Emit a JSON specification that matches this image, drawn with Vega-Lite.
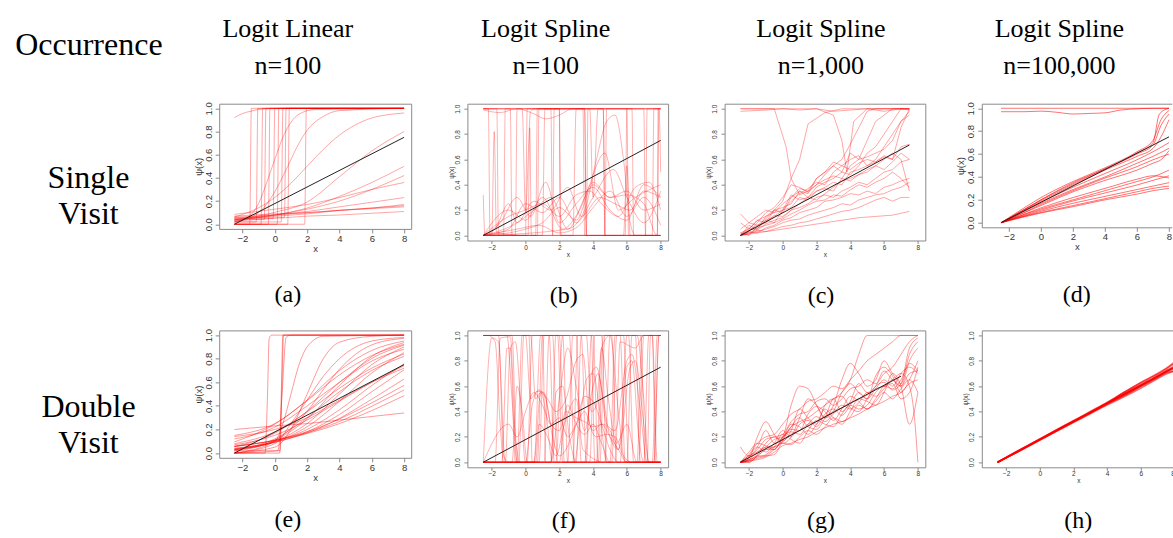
{
"$schema":"https://vega.github.io/schema/vega-lite/v6.json",
"background":"white",
"padding":0,
"columns":5,
"spacing":{"row":89.7,"column":56.2},
"bounds":"flush",
"align":"each",
"center":true,
"config":{
 "view":{"stroke":"#8a8a8a","strokeWidth":1},
 "axis":{"grid":false,"domain":false,"tickColor":"#8a8a8a","labelColor":"#333","titleColor":"#333","labelFont":"Liberation Sans","titleFont":"Liberation Sans","titleFontWeight":"normal","labelOverlap":false,"labelSeparation":0,"labelBound":false,"tickCount":6},
 "axisY":{"labelAngle":270,"labelAlign":"center","labelBaseline":"bottom","format":".1f"},
 "title":{"font":"Liberation Serif","fontWeight":"normal","color":"#000","fontSize":24},
 "text":{"font":"Liberation Serif","fontSize":26,"color":"#000"}
},
"datasets":{
"t8":[{"x":-2.5,"y":0},{"x":8,"y":0.75}],
"t75":[{"x":-2.5,"y":0},{"x":7.5,"y":0.714}],
"t7":[{"x":-2.5,"y":0},{"x":7,"y":0.679}],
"a":[
{"s":1,"x":-2.5,"y":0},{"s":1,"x":-1.55,"y":0},{"s":1,"x":-1.45,"y":1},{"s":1,"x":8,"y":1},
{"s":2,"x":-2.5,"y":0.02},{"s":2,"x":-1.15,"y":0.02},{"s":2,"x":-1.05,"y":1},{"s":2,"x":8,"y":1},
{"s":3,"x":-2.5,"y":0},{"s":3,"x":-0.85,"y":0},{"s":3,"x":-0.75,"y":1},{"s":3,"x":8,"y":1},
{"s":4,"x":-2.5,"y":0.04},{"s":4,"x":-0.65,"y":0.04},{"s":4,"x":-0.55,"y":1},{"s":4,"x":8,"y":1},
{"s":5,"x":-2.5,"y":0},{"s":5,"x":-0.4,"y":0},{"s":5,"x":-0.3,"y":1},{"s":5,"x":8,"y":1},
{"s":6,"x":-2.5,"y":0.05},{"s":6,"x":-0.1,"y":0.05},{"s":6,"x":0,"y":1},{"s":6,"x":8,"y":1},
{"s":7,"x":-2.5,"y":0},{"s":7,"x":0.15,"y":0},{"s":7,"x":0.25,"y":1},{"s":7,"x":8,"y":1},
{"s":8,"x":-2.5,"y":0.02},{"s":8,"x":0.4,"y":0.02},{"s":8,"x":0.5,"y":1},{"s":8,"x":8,"y":1},
{"s":9,"x":-2.5,"y":0.06},{"s":9,"x":0.6,"y":0.06},{"s":9,"x":0.7,"y":1},{"s":9,"x":8,"y":1},
{"s":10,"x":-2.5,"y":0},{"s":10,"x":0.8,"y":0},{"s":10,"x":0.9,"y":1},{"s":10,"x":8,"y":1},
{"s":11,"x":-2.5,"y":0},{"s":11,"x":1.85,"y":0},{"s":11,"x":1.95,"y":1},{"s":11,"x":8,"y":1},
{"s":12,"x":-2.5,"y":0.92},{"s":12,"x":-2,"y":0.955},{"s":12,"x":-1.5,"y":0.975},{"s":12,"x":-1,"y":0.99},{"s":12,"x":0,"y":0.998},{"s":12,"x":8,"y":1},
{"s":13,"x":-2.5,"y":0.02},{"s":13,"x":-1.5,"y":0.08},{"s":13,"x":-1,"y":0.18},{"s":13,"x":-0.5,"y":0.36},{"s":13,"x":0,"y":0.56},{"s":13,"x":0.5,"y":0.75},{"s":13,"x":1,"y":0.88},{"s":13,"x":1.5,"y":0.95},{"s":13,"x":2.5,"y":0.99},{"s":13,"x":8,"y":1},
{"s":14,"x":-2.5,"y":0.02},{"s":14,"x":-1,"y":0.1},{"s":14,"x":0,"y":0.28},{"s":14,"x":0.8,"y":0.5},{"s":14,"x":1.5,"y":0.7},{"s":14,"x":2,"y":0.81},{"s":14,"x":3,"y":0.93},{"s":14,"x":4,"y":0.98},{"s":14,"x":8,"y":1},
{"s":15,"x":-2.5,"y":0.063},{"s":15,"x":-1,"y":0.142},{"s":15,"x":0,"y":0.231},{"s":15,"x":1,"y":0.354},{"s":15,"x":2,"y":0.5},{"s":15,"x":3,"y":0.646},{"s":15,"x":4,"y":0.769},{"s":15,"x":5,"y":0.858},{"s":15,"x":6,"y":0.917},{"s":15,"x":7,"y":0.945},{"s":15,"x":8,"y":0.96},
{"s":16,"x":-2.5,"y":0.036},{"s":16,"x":0,"y":0.103},{"s":16,"x":2,"y":0.192},{"s":16,"x":4,"y":0.41},{"s":16,"x":6,"y":0.632},{"s":16,"x":8,"y":0.8},
{"s":17,"x":-2.5,"y":0.03},{"s":17,"x":0,"y":0.08},{"s":17,"x":2,"y":0.14},{"s":17,"x":4,"y":0.24},{"s":17,"x":6,"y":0.36},{"s":17,"x":8,"y":0.5},
{"s":18,"x":-2.5,"y":0.04},{"s":18,"x":0,"y":0.08},{"s":18,"x":2,"y":0.13},{"s":18,"x":4,"y":0.2},{"s":18,"x":6,"y":0.3},{"s":18,"x":8,"y":0.42},
{"s":19,"x":-2.5,"y":0.085},{"s":19,"x":0,"y":0.13},{"s":19,"x":2,"y":0.17},{"s":19,"x":4,"y":0.23},{"s":19,"x":6,"y":0.3},{"s":19,"x":8,"y":0.36},
{"s":20,"x":-2.5,"y":0.05},{"s":20,"x":0,"y":0.08},{"s":20,"x":2,"y":0.11},{"s":20,"x":4,"y":0.15},{"s":20,"x":6,"y":0.19},{"s":20,"x":8,"y":0.23},
{"s":21,"x":-2.5,"y":0.04},{"s":21,"x":0,"y":0.07},{"s":21,"x":2,"y":0.09},{"s":21,"x":4,"y":0.12},{"s":21,"x":6,"y":0.14},{"s":21,"x":8,"y":0.17},
{"s":22,"x":-2.5,"y":0.06},{"s":22,"x":0,"y":0.08},{"s":22,"x":2,"y":0.1},{"s":22,"x":4,"y":0.12},{"s":22,"x":6,"y":0.135},{"s":22,"x":8,"y":0.15},
{"s":23,"x":-2.5,"y":0.03},{"s":23,"x":0,"y":0.05},{"s":23,"x":2,"y":0.07},{"s":23,"x":4,"y":0.08},{"s":23,"x":6,"y":0.095},{"s":23,"x":8,"y":0.11},
{"s":24,"x":-2.5,"y":0.07},{"s":24,"x":0,"y":0.09},{"s":24,"x":2,"y":0.1},{"s":24,"x":4,"y":0.12},{"s":24,"x":6,"y":0.14},{"s":24,"x":8,"y":0.16}
],
"b":[
{"s":1,"x":-2.5,"y":1},{"s":1,"x":-1.7,"y":1},{"s":1,"x":-1.6,"y":0},{"s":1,"x":0.6,"y":0},{"s":1,"x":0.7,"y":1},{"s":1,"x":3.5,"y":1},{"s":1,"x":3.6,"y":0},{"s":1,"x":8,"y":0},
{"s":2,"x":-2.5,"y":0},{"s":2,"x":-1.3,"y":0},{"s":2,"x":-1.2,"y":1},{"s":2,"x":2,"y":1},{"s":2,"x":2.1,"y":0},{"s":2,"x":4.7,"y":0},{"s":2,"x":4.8,"y":1},{"s":2,"x":6,"y":1},{"s":2,"x":6.1,"y":0},{"s":2,"x":8,"y":0},
{"s":3,"x":-2.5,"y":1},{"s":3,"x":-0.9,"y":1},{"s":3,"x":-0.8,"y":0},{"s":3,"x":1,"y":0},{"s":3,"x":1.15,"y":1},{"s":3,"x":3.4,"y":1},{"s":3,"x":3.5,"y":0},{"s":3,"x":7.8,"y":0},{"s":3,"x":7.9,"y":1},{"s":3,"x":8,"y":1},
{"s":4,"x":-2.5,"y":0},{"s":4,"x":-0.6,"y":0},{"s":4,"x":-0.5,"y":1},{"s":4,"x":1.5,"y":1},{"s":4,"x":1.6,"y":0},{"s":4,"x":3.6,"y":0},{"s":4,"x":3.7,"y":1},{"s":4,"x":6.3,"y":1},{"s":4,"x":6.4,"y":0},{"s":4,"x":7.5,"y":0},{"s":4,"x":7.6,"y":1},{"s":4,"x":8,"y":1},
{"s":5,"x":-2.5,"y":1},{"s":5,"x":-2.2,"y":1},{"s":5,"x":-2.1,"y":0},{"s":5,"x":0,"y":0},{"s":5,"x":0.1,"y":1},{"s":5,"x":4.6,"y":1},{"s":5,"x":4.7,"y":0},{"s":5,"x":7.1,"y":0},{"s":5,"x":7.2,"y":1},{"s":5,"x":8,"y":1},
{"s":6,"x":-2.5,"y":0},{"s":6,"x":0.7,"y":0},{"s":6,"x":0.8,"y":1},{"s":6,"x":2,"y":1},{"s":6,"x":2.05,"y":0},{"s":6,"x":5.9,"y":0},{"s":6,"x":6,"y":1},{"s":6,"x":8,"y":1},
{"s":7,"x":-2.5,"y":0.99},{"s":7,"x":-1.5,"y":0.97},{"s":7,"x":-0.5,"y":1},{"s":7,"x":0.5,"y":0.96},{"s":7,"x":1.2,"y":0.92},{"s":7,"x":2,"y":0.95},{"s":7,"x":2.8,"y":1},{"s":7,"x":8,"y":1},
{"s":8,"x":-2.5,"y":0.32},{"s":8,"x":-2.4,"y":0},{"s":8,"x":-2,"y":0},{"s":8,"x":-1.85,"y":0.82},{"s":8,"x":-1.72,"y":0.02},{"s":8,"x":0.15,"y":0},{"s":8,"x":0.25,"y":0.85},{"s":8,"x":0.35,"y":0},{"s":8,"x":8,"y":0},
{"s":9,"x":-2.5,"y":0},{"s":9,"x":-1.5,"y":0.1},{"s":9,"x":-0.5,"y":0.3},{"s":9,"x":0.3,"y":0.15},{"s":9,"x":1.2,"y":0.42},{"s":9,"x":2,"y":0.1},{"s":9,"x":3,"y":0.25},{"s":9,"x":4,"y":0.38},{"s":9,"x":5,"y":0.2},{"s":9,"x":6,"y":0.12},{"s":9,"x":7,"y":0.4},{"s":9,"x":8,"y":0.3},
{"s":10,"x":-2.5,"y":0},{"s":10,"x":-1,"y":0.2},{"s":10,"x":0,"y":0.12},{"s":10,"x":1,"y":0.3},{"s":10,"x":2.2,"y":0.05},{"s":10,"x":3.2,"y":0.2},{"s":10,"x":4,"y":0.42},{"s":10,"x":5,"y":0.3},{"s":10,"x":6,"y":0.35},{"s":10,"x":7,"y":0.2},{"s":10,"x":8,"y":0.25},
{"s":11,"x":-2.5,"y":0},{"s":11,"x":-1,"y":0.05},{"s":11,"x":0,"y":0.25},{"s":11,"x":1,"y":0.18},{"s":11,"x":2,"y":0.3},{"s":11,"x":3,"y":0.1},{"s":11,"x":4,"y":0.3},{"s":11,"x":5.2,"y":0.52},{"s":11,"x":6,"y":0.3},{"s":11,"x":7,"y":0.1},{"s":11,"x":8,"y":0.35},
{"s":12,"x":-2.5,"y":0},{"s":12,"x":-0.5,"y":0.1},{"s":12,"x":0.5,"y":0.2},{"s":12,"x":1.5,"y":0.3},{"s":12,"x":2.5,"y":0.05},{"s":12,"x":3.5,"y":0.3},{"s":12,"x":4.7,"y":0.65},{"s":12,"x":5.5,"y":0.2},{"s":12,"x":6.5,"y":0.3},{"s":12,"x":8,"y":0.4},
{"s":13,"x":-2.5,"y":0},{"s":13,"x":2.5,"y":0.05},{"s":13,"x":3.5,"y":0.2},{"s":13,"x":4.2,"y":0.6},{"s":13,"x":4.8,"y":0.9},{"s":13,"x":5.3,"y":0.95},{"s":13,"x":5.8,"y":0.6},{"s":13,"x":6.2,"y":0.1},{"s":13,"x":6.5,"y":0},{"s":13,"x":8,"y":0},
{"s":14,"x":-2.5,"y":0},{"s":14,"x":-1,"y":0.15},{"s":14,"x":0,"y":0.2},{"s":14,"x":1,"y":0.25},{"s":14,"x":2,"y":0.15},{"s":14,"x":3,"y":0.32},{"s":14,"x":3.8,"y":0.35},{"s":14,"x":4.5,"y":0.25},{"s":14,"x":5.5,"y":0.15},{"s":14,"x":6.5,"y":0.38},{"s":14,"x":7.3,"y":0.42},{"s":14,"x":8,"y":0.2},
{"s":15,"x":-2.5,"y":0},{"s":15,"x":0,"y":0.05},{"s":15,"x":1,"y":0.1},{"s":15,"x":2,"y":0.22},{"s":15,"x":3,"y":0.12},{"s":15,"x":4,"y":0.4},{"s":15,"x":5,"y":0.3},{"s":15,"x":6,"y":0.32},{"s":15,"x":7,"y":0.25},{"s":15,"x":7.8,"y":0},{"s":15,"x":8,"y":0},
{"s":16,"x":-2.5,"y":0},{"s":16,"x":-0.5,"y":0.05},{"s":16,"x":0.8,"y":0.08},{"s":16,"x":2,"y":0.02},{"s":16,"x":3,"y":0.06},{"s":16,"x":4,"y":0.22},{"s":16,"x":5,"y":0.35},{"s":16,"x":6,"y":0.15},{"s":16,"x":7,"y":0.3},{"s":16,"x":8,"y":0.08},
{"s":17,"x":-2.5,"y":0},{"s":17,"x":-1.8,"y":0.05},{"s":17,"x":-1,"y":0.25},{"s":17,"x":-0.5,"y":0.1},{"s":17,"x":0.5,"y":0.27},{"s":17,"x":1.5,"y":0.2},{"s":17,"x":2.5,"y":0.38},{"s":17,"x":3.3,"y":0.15},{"s":17,"x":4.4,"y":0.3},{"s":17,"x":5.3,"y":0.25},{"s":17,"x":6.2,"y":0.2},{"s":17,"x":7,"y":0.35},{"s":17,"x":8,"y":0.3},
{"s":18,"x":-2.5,"y":1},{"s":18,"x":-0.2,"y":1},{"s":18,"x":0,"y":0.2},{"s":18,"x":0.3,"y":0.98},{"s":18,"x":0.6,"y":1},{"s":18,"x":3.8,"y":1},{"s":18,"x":4,"y":0.3},{"s":18,"x":4.3,"y":1},{"s":18,"x":7.9,"y":1},{"s":18,"x":8,"y":0.5},
{"s":19,"x":-2.5,"y":0},{"s":19,"x":1.6,"y":0},{"s":19,"x":1.7,"y":1},{"s":19,"x":3.5,"y":1},{"s":19,"x":3.6,"y":0},{"s":19,"x":5.8,"y":0},{"s":19,"x":6,"y":0.55},{"s":19,"x":6.2,"y":0},{"s":19,"x":8,"y":0},
{"s":20,"x":-2.5,"y":0},{"s":20,"x":2.8,"y":0},{"s":20,"x":3,"y":1},{"s":20,"x":7,"y":1},{"s":20,"x":7.1,"y":0},{"s":20,"x":8,"y":0},
{"s":21,"x":-2.5,"y":1},{"s":21,"x":4.6,"y":1},{"s":21,"x":4.7,"y":0},{"s":21,"x":7.8,"y":0},{"s":21,"x":7.85,"y":1},{"s":21,"x":8,"y":1}
],
"c":[
{"s":1,"x":-2.5,"y":0.98},{"s":1,"x":-1,"y":0.99},{"s":1,"x":0,"y":1},{"s":1,"x":1,"y":0.99},{"s":1,"x":2,"y":1},{"s":1,"x":3,"y":0.98},{"s":1,"x":4,"y":0.99},{"s":1,"x":5,"y":1},{"s":1,"x":6,"y":0.98},{"s":1,"x":7,"y":1},{"s":1,"x":7.5,"y":0.99},
{"s":2,"x":-2.5,"y":1},{"s":2,"x":-0.5,"y":1},{"s":2,"x":0.2,"y":0.7},{"s":2,"x":0.5,"y":0.45},{"s":2,"x":1,"y":0.6},{"s":2,"x":1.5,"y":0.88},{"s":2,"x":2.5,"y":0.97},{"s":2,"x":3.5,"y":1},{"s":2,"x":7.5,"y":1},
{"s":3,"x":-2.5,"y":1},{"s":3,"x":2,"y":1},{"s":3,"x":3,"y":0.95},{"s":3,"x":3.5,"y":0.75},{"s":3,"x":3.8,"y":0.5},{"s":3,"x":4.2,"y":0.9},{"s":3,"x":5,"y":1},{"s":3,"x":7.5,"y":1},
{"s":4,"x":-2.5,"y":0.02},{"s":4,"x":-2,"y":0.05},{"s":4,"x":-1.5,"y":0.12},{"s":4,"x":-1,"y":0.1},{"s":4,"x":-0.5,"y":0.2},{"s":4,"x":0,"y":0.18},{"s":4,"x":0.5,"y":0.3},{"s":4,"x":1,"y":0.35},{"s":4,"x":1.5,"y":0.33},{"s":4,"x":2,"y":0.45},{"s":4,"x":2.5,"y":0.5},{"s":4,"x":3,"y":0.55},{"s":4,"x":3.5,"y":0.6},{"s":4,"x":4,"y":0.72},{"s":4,"x":4.5,"y":0.85},{"s":4,"x":5,"y":0.98},{"s":4,"x":5.5,"y":1},{"s":4,"x":7.5,"y":1},
{"s":5,"x":-2.5,"y":0},{"s":5,"x":-2,"y":0.08},{"s":5,"x":-1.5,"y":0.05},{"s":5,"x":-1,"y":0.15},{"s":5,"x":-0.5,"y":0.2},{"s":5,"x":0,"y":0.27},{"s":5,"x":0.5,"y":0.45},{"s":5,"x":1,"y":0.32},{"s":5,"x":1.5,"y":0.35},{"s":5,"x":2,"y":0.4},{"s":5,"x":2.5,"y":0.48},{"s":5,"x":3,"y":0.55},{"s":5,"x":3.5,"y":0.5},{"s":5,"x":4,"y":0.65},{"s":5,"x":4.5,"y":0.6},{"s":5,"x":5,"y":0.75},{"s":5,"x":5.5,"y":0.9},{"s":5,"x":6,"y":0.95},{"s":5,"x":6.5,"y":1},{"s":5,"x":7.5,"y":1},
{"s":6,"x":-2.5,"y":0.17},{"s":6,"x":-2,"y":0.1},{"s":6,"x":-1.5,"y":0.15},{"s":6,"x":-1,"y":0.2},{"s":6,"x":-0.5,"y":0.18},{"s":6,"x":0,"y":0.25},{"s":6,"x":0.5,"y":0.3},{"s":6,"x":1,"y":0.37},{"s":6,"x":1.5,"y":0.35},{"s":6,"x":2,"y":0.45},{"s":6,"x":2.5,"y":0.5},{"s":6,"x":3,"y":0.58},{"s":6,"x":3.5,"y":0.55},{"s":6,"x":4,"y":0.6},{"s":6,"x":4.5,"y":0.63},{"s":6,"x":5,"y":0.55},{"s":6,"x":5.5,"y":0.6},{"s":6,"x":6,"y":0.7},{"s":6,"x":6.5,"y":0.8},{"s":6,"x":7,"y":0.9},{"s":6,"x":7.5,"y":0.98},
{"s":7,"x":-2.5,"y":0},{"s":7,"x":-2,"y":0.02},{"s":7,"x":-1.5,"y":0.05},{"s":7,"x":-1,"y":0.12},{"s":7,"x":-0.5,"y":0.1},{"s":7,"x":0,"y":0.2},{"s":7,"x":0.5,"y":0.22},{"s":7,"x":1,"y":0.3},{"s":7,"x":1.5,"y":0.28},{"s":7,"x":2,"y":0.35},{"s":7,"x":2.5,"y":0.38},{"s":7,"x":3,"y":0.42},{"s":7,"x":3.5,"y":0.4},{"s":7,"x":4,"y":0.5},{"s":7,"x":4.5,"y":0.52},{"s":7,"x":5,"y":0.55},{"s":7,"x":5.5,"y":0.58},{"s":7,"x":6,"y":0.62},{"s":7,"x":6.5,"y":0.6},{"s":7,"x":7,"y":0.85},{"s":7,"x":7.5,"y":1},
{"s":8,"x":-2.5,"y":0.01},{"s":8,"x":-2,"y":0.04},{"s":8,"x":-1.5,"y":0.08},{"s":8,"x":-1,"y":0.1},{"s":8,"x":-0.5,"y":0.16},{"s":8,"x":0,"y":0.15},{"s":8,"x":0.5,"y":0.2},{"s":8,"x":1,"y":0.25},{"s":8,"x":1.5,"y":0.3},{"s":8,"x":2,"y":0.28},{"s":8,"x":2.5,"y":0.33},{"s":8,"x":3,"y":0.38},{"s":8,"x":3.5,"y":0.43},{"s":8,"x":4,"y":0.45},{"s":8,"x":4.5,"y":0.48},{"s":8,"x":5,"y":0.52},{"s":8,"x":5.5,"y":0.55},{"s":8,"x":6,"y":0.6},{"s":8,"x":6.5,"y":0.65},{"s":8,"x":7,"y":0.6},{"s":8,"x":7.5,"y":0.35},
{"s":9,"x":-2.5,"y":0},{"s":9,"x":-2,"y":0.06},{"s":9,"x":-1.5,"y":0.04},{"s":9,"x":-1,"y":0.09},{"s":9,"x":-0.5,"y":0.12},{"s":9,"x":0,"y":0.14},{"s":9,"x":0.5,"y":0.2},{"s":9,"x":1,"y":0.22},{"s":9,"x":1.5,"y":0.25},{"s":9,"x":2,"y":0.3},{"s":9,"x":2.5,"y":0.32},{"s":9,"x":3,"y":0.3},{"s":9,"x":3.5,"y":0.35},{"s":9,"x":4,"y":0.38},{"s":9,"x":4.5,"y":0.42},{"s":9,"x":5,"y":0.4},{"s":9,"x":5.5,"y":0.45},{"s":9,"x":6,"y":0.5},{"s":9,"x":6.5,"y":0.52},{"s":9,"x":7,"y":0.58},{"s":9,"x":7.5,"y":0.6},
{"s":10,"x":-2.5,"y":0},{"s":10,"x":-2,"y":0.02},{"s":10,"x":-1.5,"y":0.03},{"s":10,"x":-1,"y":0.05},{"s":10,"x":-0.5,"y":0.07},{"s":10,"x":0,"y":0.1},{"s":10,"x":0.5,"y":0.12},{"s":10,"x":1,"y":0.13},{"s":10,"x":1.5,"y":0.16},{"s":10,"x":2,"y":0.18},{"s":10,"x":2.5,"y":0.2},{"s":10,"x":3,"y":0.22},{"s":10,"x":3.5,"y":0.25},{"s":10,"x":4,"y":0.24},{"s":10,"x":4.5,"y":0.28},{"s":10,"x":5,"y":0.3},{"s":10,"x":5.5,"y":0.32},{"s":10,"x":6,"y":0.33},{"s":10,"x":6.5,"y":0.36},{"s":10,"x":7,"y":0.38},{"s":10,"x":7.5,"y":0.42},
{"s":11,"x":-2.5,"y":0},{"s":11,"x":-2,"y":0.01},{"s":11,"x":-1.5,"y":0.04},{"s":11,"x":-1,"y":0.03},{"s":11,"x":-0.5,"y":0.05},{"s":11,"x":0,"y":0.07},{"s":11,"x":0.5,"y":0.08},{"s":11,"x":1,"y":0.1},{"s":11,"x":1.5,"y":0.11},{"s":11,"x":2,"y":0.13},{"s":11,"x":2.5,"y":0.15},{"s":11,"x":3,"y":0.17},{"s":11,"x":3.5,"y":0.19},{"s":11,"x":4,"y":0.2},{"s":11,"x":4.5,"y":0.22},{"s":11,"x":5,"y":0.25},{"s":11,"x":5.5,"y":0.28},{"s":11,"x":6,"y":0.3},{"s":11,"x":6.5,"y":0.27},{"s":11,"x":7,"y":0.3},{"s":11,"x":7.5,"y":0.3},
{"s":12,"x":-2.5,"y":0},{"s":12,"x":-1.5,"y":0.02},{"s":12,"x":-0.5,"y":0.04},{"s":12,"x":0.5,"y":0.06},{"s":12,"x":1.5,"y":0.08},{"s":12,"x":2.5,"y":0.1},{"s":12,"x":3.5,"y":0.12},{"s":12,"x":4.5,"y":0.14},{"s":12,"x":5.5,"y":0.15},{"s":12,"x":6.5,"y":0.16},{"s":12,"x":7.5,"y":0.19},
{"s":13,"x":-2.5,"y":0.02},{"s":13,"x":-2,"y":0},{"s":13,"x":-1.5,"y":0.07},{"s":13,"x":-1,"y":0.12},{"s":13,"x":-0.5,"y":0.15},{"s":13,"x":0,"y":0.2},{"s":13,"x":0.5,"y":0.27},{"s":13,"x":1,"y":0.33},{"s":13,"x":1.5,"y":0.37},{"s":13,"x":2,"y":0.42},{"s":13,"x":2.5,"y":0.4},{"s":13,"x":3,"y":0.5},{"s":13,"x":3.5,"y":0.55},{"s":13,"x":4,"y":0.52},{"s":13,"x":4.5,"y":0.57},{"s":13,"x":5,"y":0.6},{"s":13,"x":5.5,"y":0.58},{"s":13,"x":6,"y":0.63},{"s":13,"x":6.5,"y":0.6},{"s":13,"x":7,"y":0.7},{"s":13,"x":7.5,"y":0.72},
{"s":14,"x":-2.5,"y":0},{"s":14,"x":-2,"y":0.03},{"s":14,"x":-1.5,"y":0.1},{"s":14,"x":-1,"y":0.18},{"s":14,"x":-0.5,"y":0.22},{"s":14,"x":0,"y":0.3},{"s":14,"x":0.5,"y":0.4},{"s":14,"x":1,"y":0.38},{"s":14,"x":1.5,"y":0.34},{"s":14,"x":2,"y":0.4},{"s":14,"x":2.5,"y":0.44},{"s":14,"x":3,"y":0.47},{"s":14,"x":3.5,"y":0.45},{"s":14,"x":4,"y":0.55},{"s":14,"x":4.5,"y":0.6},{"s":14,"x":5,"y":0.62},{"s":14,"x":5.5,"y":0.65},{"s":14,"x":6,"y":0.68},{"s":14,"x":6.5,"y":0.75},{"s":14,"x":7,"y":0.9},{"s":14,"x":7.5,"y":0.95},
{"s":15,"x":-2.5,"y":0},{"s":15,"x":-2,"y":0.03},{"s":15,"x":-1.5,"y":0.02},{"s":15,"x":-1,"y":0.06},{"s":15,"x":-0.5,"y":0.08},{"s":15,"x":0,"y":0.12},{"s":15,"x":0.5,"y":0.14},{"s":15,"x":1,"y":0.18},{"s":15,"x":1.5,"y":0.2},{"s":15,"x":2,"y":0.22},{"s":15,"x":2.5,"y":0.27},{"s":15,"x":3,"y":0.28},{"s":15,"x":3.5,"y":0.3},{"s":15,"x":4,"y":0.33},{"s":15,"x":4.5,"y":0.32},{"s":15,"x":5,"y":0.35},{"s":15,"x":5.5,"y":0.33},{"s":15,"x":6,"y":0.38},{"s":15,"x":6.5,"y":0.4},{"s":15,"x":7,"y":0.43},{"s":15,"x":7.5,"y":0.45},
{"s":16,"x":-2.5,"y":0.05},{"s":16,"x":-2,"y":0.1},{"s":16,"x":-1.5,"y":0.08},{"s":16,"x":-1,"y":0.13},{"s":16,"x":-0.5,"y":0.2},{"s":16,"x":0,"y":0.22},{"s":16,"x":0.5,"y":0.25},{"s":16,"x":1,"y":0.35},{"s":16,"x":1.5,"y":0.3},{"s":16,"x":2,"y":0.38},{"s":16,"x":2.5,"y":0.42},{"s":16,"x":3,"y":0.45},{"s":16,"x":3.5,"y":0.5},{"s":16,"x":4,"y":0.48},{"s":16,"x":4.5,"y":0.55},{"s":16,"x":5,"y":0.65},{"s":16,"x":5.5,"y":0.7},{"s":16,"x":6,"y":0.8},{"s":16,"x":6.5,"y":0.9},{"s":16,"x":7,"y":1},{"s":16,"x":7.5,"y":1},
{"s":17,"x":-2.5,"y":0},{"s":17,"x":-2,"y":0.04},{"s":17,"x":-1.5,"y":0.06},{"s":17,"x":-1,"y":0.08},{"s":17,"x":-0.5,"y":0.1},{"s":17,"x":0,"y":0.13},{"s":17,"x":0.5,"y":0.17},{"s":17,"x":1,"y":0.2},{"s":17,"x":1.5,"y":0.24},{"s":17,"x":2,"y":0.27},{"s":17,"x":2.5,"y":0.28},{"s":17,"x":3,"y":0.32},{"s":17,"x":3.5,"y":0.31},{"s":17,"x":4,"y":0.36},{"s":17,"x":4.5,"y":0.4},{"s":17,"x":5,"y":0.38},{"s":17,"x":5.5,"y":0.42},{"s":17,"x":6,"y":0.45},{"s":17,"x":6.5,"y":0.5},{"s":17,"x":7,"y":0.45},{"s":17,"x":7.5,"y":0.38},
{"s":18,"x":-2.5,"y":0.1},{"s":18,"x":-2,"y":0.05},{"s":18,"x":-1.5,"y":0.12},{"s":18,"x":-1,"y":0.15},{"s":18,"x":-0.5,"y":0.18},{"s":18,"x":0,"y":0.2},{"s":18,"x":0.5,"y":0.32},{"s":18,"x":1,"y":0.28},{"s":18,"x":1.5,"y":0.3},{"s":18,"x":2,"y":0.35},{"s":18,"x":2.5,"y":0.37},{"s":18,"x":3,"y":0.35},{"s":18,"x":3.5,"y":0.45},{"s":18,"x":4,"y":0.43},{"s":18,"x":4.5,"y":0.48},{"s":18,"x":5,"y":0.5},{"s":18,"x":5.5,"y":0.55},{"s":18,"x":6,"y":0.52},{"s":18,"x":6.5,"y":0.58},{"s":18,"x":7,"y":0.65},{"s":18,"x":7.5,"y":0.6}
],
"d":[
{"s":1,"x":-2.5,"y":1},{"s":1,"x":8,"y":1},
{"s":2,"x":-2.5,"y":0.97},{"s":2,"x":-1,"y":0.97},{"s":2,"x":0,"y":0.975},{"s":2,"x":1,"y":0.965},{"s":2,"x":2,"y":0.95},{"s":2,"x":3,"y":0.955},{"s":2,"x":4,"y":0.96},{"s":2,"x":5,"y":0.985},{"s":2,"x":6,"y":0.995},{"s":2,"x":7,"y":1},{"s":2,"x":8,"y":1},
{"s":3,"x":-2.5,"y":0},{"s":3,"x":-1.5,"y":0.09},{"s":3,"x":0,"y":0.22},{"s":3,"x":2,"y":0.36},{"s":3,"x":4,"y":0.48},{"s":3,"x":6,"y":0.62},{"s":3,"x":7,"y":0.72},{"s":3,"x":7.5,"y":0.9},{"s":3,"x":8,"y":0.98},
{"s":4,"x":-2.5,"y":0},{"s":4,"x":-1.5,"y":0.08},{"s":4,"x":0,"y":0.2},{"s":4,"x":2,"y":0.34},{"s":4,"x":4,"y":0.47},{"s":4,"x":6,"y":0.6},{"s":4,"x":7,"y":0.68},{"s":4,"x":7.5,"y":0.85},{"s":4,"x":8,"y":0.95},
{"s":5,"x":-2.5,"y":0},{"s":5,"x":-1.5,"y":0.08},{"s":5,"x":0,"y":0.19},{"s":5,"x":2,"y":0.33},{"s":5,"x":4,"y":0.46},{"s":5,"x":6,"y":0.58},{"s":5,"x":7,"y":0.65},{"s":5,"x":7.5,"y":0.75},{"s":5,"x":8,"y":0.9},
{"s":6,"x":-2.5,"y":0},{"s":6,"x":-1.5,"y":0.07},{"s":6,"x":0,"y":0.18},{"s":6,"x":2,"y":0.31},{"s":6,"x":4,"y":0.43},{"s":6,"x":6,"y":0.55},{"s":6,"x":7,"y":0.62},{"s":6,"x":8,"y":0.7},
{"s":7,"x":-2.5,"y":0},{"s":7,"x":-1.5,"y":0.07},{"s":7,"x":0,"y":0.17},{"s":7,"x":2,"y":0.29},{"s":7,"x":4,"y":0.4},{"s":7,"x":6,"y":0.52},{"s":7,"x":7,"y":0.58},{"s":7,"x":8,"y":0.65},
{"s":8,"x":-2.5,"y":0},{"s":8,"x":-1.5,"y":0.06},{"s":8,"x":0,"y":0.16},{"s":8,"x":2,"y":0.28},{"s":8,"x":4,"y":0.39},{"s":8,"x":6,"y":0.49},{"s":8,"x":7,"y":0.55},{"s":8,"x":8,"y":0.6},
{"s":9,"x":-2.5,"y":0},{"s":9,"x":-1.5,"y":0.06},{"s":9,"x":0,"y":0.15},{"s":9,"x":2,"y":0.27},{"s":9,"x":4,"y":0.37},{"s":9,"x":6,"y":0.46},{"s":9,"x":7,"y":0.52},{"s":9,"x":7.5,"y":0.55},{"s":9,"x":8,"y":0.63},
{"s":10,"x":-2.5,"y":0},{"s":10,"x":-1.5,"y":0.075},{"s":10,"x":0,"y":0.2},{"s":10,"x":2,"y":0.35},{"s":10,"x":4,"y":0.47},{"s":10,"x":6,"y":0.61},{"s":10,"x":7,"y":0.7},{"s":10,"x":7.4,"y":0.95},{"s":10,"x":8,"y":1},
{"s":11,"x":-2.5,"y":0},{"s":11,"x":-1.5,"y":0.05},{"s":11,"x":0,"y":0.12},{"s":11,"x":2,"y":0.2},{"s":11,"x":4,"y":0.28},{"s":11,"x":6,"y":0.36},{"s":11,"x":7,"y":0.4},{"s":11,"x":8,"y":0.46},
{"s":12,"x":-2.5,"y":0},{"s":12,"x":-1.5,"y":0.045},{"s":12,"x":0,"y":0.11},{"s":12,"x":2,"y":0.19},{"s":12,"x":4,"y":0.26},{"s":12,"x":6,"y":0.33},{"s":12,"x":7,"y":0.37},{"s":12,"x":8,"y":0.41},
{"s":13,"x":-2.5,"y":0},{"s":13,"x":-1.5,"y":0.04},{"s":13,"x":0,"y":0.1},{"s":13,"x":2,"y":0.17},{"s":13,"x":4,"y":0.23},{"s":13,"x":6,"y":0.29},{"s":13,"x":7,"y":0.32},{"s":13,"x":8,"y":0.35},
{"s":14,"x":-2.5,"y":0},{"s":14,"x":-1.5,"y":0.04},{"s":14,"x":0,"y":0.09},{"s":14,"x":2,"y":0.15},{"s":14,"x":4,"y":0.21},{"s":14,"x":6,"y":0.27},{"s":14,"x":7,"y":0.3},{"s":14,"x":8,"y":0.32},
{"s":15,"x":-2.5,"y":0},{"s":15,"x":-1.5,"y":0.035},{"s":15,"x":0,"y":0.085},{"s":15,"x":2,"y":0.14},{"s":15,"x":4,"y":0.2},{"s":15,"x":6,"y":0.25},{"s":15,"x":7,"y":0.28},{"s":15,"x":8,"y":0.3},
{"s":16,"x":-2.5,"y":0},{"s":16,"x":-1.5,"y":0.05},{"s":16,"x":0,"y":0.13},{"s":16,"x":2,"y":0.22},{"s":16,"x":4,"y":0.3},{"s":16,"x":6,"y":0.38},{"s":16,"x":7,"y":0.41},{"s":16,"x":8,"y":0.39}
],
"e":[
{"s":1,"x":-2.5,"y":0},{"s":1,"x":-0.6,"y":0},{"s":1,"x":-0.45,"y":0.5},{"s":1,"x":-0.35,"y":0.97},{"s":1,"x":-0.2,"y":1},{"s":1,"x":8,"y":1},
{"s":2,"x":-2.5,"y":0},{"s":2,"x":0.3,"y":0},{"s":2,"x":0.4,"y":0.5},{"s":2,"x":0.5,"y":1},{"s":2,"x":8,"y":1},
{"s":3,"x":-2.5,"y":0.02},{"s":3,"x":0.33,"y":0.02},{"s":3,"x":0.43,"y":0.5},{"s":3,"x":0.55,"y":1},{"s":3,"x":8,"y":1},
{"s":4,"x":-2.5,"y":0},{"s":4,"x":0.2,"y":0.02},{"s":4,"x":0.45,"y":0.5},{"s":4,"x":0.7,"y":0.98},{"s":4,"x":1,"y":1},{"s":4,"x":8,"y":1},
{"s":5,"x":-2.5,"y":0},{"s":5,"x":0,"y":0.1},{"s":5,"x":0.5,"y":0.25},{"s":5,"x":1,"y":0.5},{"s":5,"x":1.5,"y":0.75},{"s":5,"x":2,"y":0.9},{"s":5,"x":3,"y":0.99},{"s":5,"x":8,"y":1},
{"s":6,"x":-2.5,"y":0.018},{"s":6,"x":0,"y":0.109},{"s":6,"x":2,"y":0.354},{"s":6,"x":3,"y":0.537},{"s":6,"x":4,"y":0.711},{"s":6,"x":6,"y":0.917},{"s":6,"x":8,"y":0.973},
{"s":7,"x":-2.5,"y":0.027},{"s":7,"x":0,"y":0.109},{"s":7,"x":2,"y":0.289},{"s":7,"x":4,"y":0.574},{"s":7,"x":6,"y":0.818},{"s":7,"x":8,"y":0.937},
{"s":8,"x":-2.5,"y":0.055},{"s":8,"x":0,"y":0.168},{"s":8,"x":2,"y":0.354},{"s":8,"x":4,"y":0.599},{"s":8,"x":6,"y":0.802},{"s":8,"x":8,"y":0.915},
{"s":9,"x":-2.5,"y":0.095},{"s":9,"x":0,"y":0.245},{"s":9,"x":2,"y":0.444},{"s":9,"x":4,"y":0.663},{"s":9,"x":6,"y":0.827},{"s":9,"x":8,"y":0.922},
{"s":10,"x":-2.5,"y":0.027},{"s":10,"x":0,"y":0.1},{"s":10,"x":2,"y":0.25},{"s":10,"x":4,"y":0.5},{"s":10,"x":6,"y":0.75},{"s":10,"x":8,"y":0.9},
{"s":11,"x":-2.5,"y":0.029},{"s":11,"x":0,"y":0.095},{"s":11,"x":2,"y":0.223},{"s":11,"x":4,"y":0.438},{"s":11,"x":6,"y":0.679},{"s":11,"x":8,"y":0.852},
{"s":12,"x":-2.5,"y":0.036},{"s":12,"x":0,"y":0.097},{"s":12,"x":2,"y":0.2},{"s":12,"x":4,"y":0.367},{"s":12,"x":6,"y":0.573},{"s":12,"x":8,"y":0.757},
{"s":13,"x":-2.5,"y":0.035},{"s":13,"x":0,"y":0.09},{"s":13,"x":2,"y":0.18},{"s":13,"x":4,"y":0.327},{"s":13,"x":6,"y":0.52},{"s":13,"x":8,"y":0.706},
{"s":14,"x":-2.5,"y":0.041},{"s":14,"x":0,"y":0.093},{"s":14,"x":2,"y":0.17},{"s":14,"x":4,"y":0.294},{"s":14,"x":6,"y":0.457},{"s":14,"x":8,"y":0.628},
{"s":15,"x":-2.5,"y":0.055},{"s":15,"x":0,"y":0.109},{"s":15,"x":2,"y":0.182},{"s":15,"x":4,"y":0.289},{"s":15,"x":6,"y":0.426},{"s":15,"x":8,"y":0.574},
{"s":16,"x":-2.5,"y":0.057},{"s":16,"x":0,"y":0.109},{"s":16,"x":2,"y":0.174},{"s":16,"x":4,"y":0.267},{"s":16,"x":6,"y":0.397},{"s":16,"x":8,"y":0.535},
{"s":17,"x":-2.5,"y":0.058},{"s":17,"x":0,"y":0.106},{"s":17,"x":2,"y":0.166},{"s":17,"x":4,"y":0.25},{"s":17,"x":6,"y":0.36},{"s":17,"x":8,"y":0.487},
{"s":18,"x":-2.5,"y":0.2},{"s":18,"x":0,"y":0.23},{"s":18,"x":2,"y":0.25},{"s":18,"x":4,"y":0.28},{"s":18,"x":6,"y":0.31},{"s":18,"x":8,"y":0.34},
{"s":19,"x":-2.5,"y":0.14},{"s":19,"x":0,"y":0.2},{"s":19,"x":2,"y":0.3},{"s":19,"x":4,"y":0.45},{"s":19,"x":6,"y":0.6},{"s":19,"x":8,"y":0.72},
{"s":20,"x":-2.5,"y":0.12},{"s":20,"x":0,"y":0.22},{"s":20,"x":2,"y":0.4},{"s":20,"x":4,"y":0.6},{"s":20,"x":6,"y":0.78},{"s":20,"x":8,"y":0.88},
{"s":21,"x":-2.5,"y":0.08},{"s":21,"x":0,"y":0.18},{"s":21,"x":2,"y":0.35},{"s":21,"x":4,"y":0.55},{"s":21,"x":6,"y":0.72},{"s":21,"x":8,"y":0.84},
{"s":22,"x":-2.5,"y":0.07},{"s":22,"x":0,"y":0.15},{"s":22,"x":2,"y":0.28},{"s":22,"x":4,"y":0.44},{"s":22,"x":6,"y":0.6},{"s":22,"x":8,"y":0.74},
{"s":23,"x":-2.5,"y":0},{"s":23,"x":0,"y":0.05},{"s":23,"x":1,"y":0.2},{"s":23,"x":2,"y":0.5},{"s":23,"x":3,"y":0.8},{"s":23,"x":4,"y":0.94},{"s":23,"x":6,"y":0.99},{"s":23,"x":8,"y":1},
{"s":24,"x":-2.5,"y":0},{"s":24,"x":0,"y":0.08},{"s":24,"x":1,"y":0.25},{"s":24,"x":2,"y":0.45},{"s":24,"x":3,"y":0.65},{"s":24,"x":4,"y":0.8},{"s":24,"x":6,"y":0.95},{"s":24,"x":8,"y":0.98},
{"s":25,"x":-2.5,"y":0.03},{"s":25,"x":0,"y":0.12},{"s":25,"x":2,"y":0.3},{"s":25,"x":4,"y":0.52},{"s":25,"x":6,"y":0.7},{"s":25,"x":8,"y":0.82},
{"s":26,"x":-2.5,"y":0.15},{"s":26,"x":0,"y":0.25},{"s":26,"x":2,"y":0.45},{"s":26,"x":4,"y":0.7},{"s":26,"x":6,"y":0.87},{"s":26,"x":8,"y":0.95}
],
"f":[
{"s":1,"x":-2.5,"y":1},{"s":1,"x":-2.2,"y":1},{"s":1,"x":-1.8,"y":0.95},{"s":1,"x":-1.5,"y":0.3},{"s":1,"x":-1.3,"y":0},{"s":1,"x":0.5,"y":0},{"s":1,"x":0.9,"y":1},{"s":1,"x":2,"y":1},{"s":1,"x":2.3,"y":0},{"s":1,"x":8,"y":0},
{"s":2,"x":-2.5,"y":0},{"s":2,"x":-1.2,"y":0},{"s":2,"x":-0.9,"y":0.9},{"s":2,"x":-0.6,"y":0.95},{"s":2,"x":-0.3,"y":0.5},{"s":2,"x":0,"y":0},{"s":2,"x":1.5,"y":0},{"s":2,"x":1.8,"y":1},{"s":2,"x":3,"y":1},{"s":2,"x":3.3,"y":0},{"s":2,"x":5,"y":0},{"s":2,"x":5.3,"y":1},{"s":2,"x":6.5,"y":1},{"s":2,"x":6.8,"y":0},{"s":2,"x":8,"y":0},
{"s":3,"x":-2.5,"y":0},{"s":3,"x":-0.5,"y":0},{"s":3,"x":-0.2,"y":1},{"s":3,"x":0.3,"y":1},{"s":3,"x":0.6,"y":0.5},{"s":3,"x":0.9,"y":0.55},{"s":3,"x":1.2,"y":0.4},{"s":3,"x":1.6,"y":0},{"s":3,"x":2.5,"y":0},{"s":3,"x":2.8,"y":1},{"s":3,"x":4.5,"y":1},{"s":3,"x":4.8,"y":0},{"s":3,"x":7.2,"y":0},{"s":3,"x":7.4,"y":1},{"s":3,"x":8,"y":1},
{"s":4,"x":-2.5,"y":1},{"s":4,"x":-0.8,"y":1},{"s":4,"x":-0.5,"y":0},{"s":4,"x":0.8,"y":0},{"s":4,"x":1.1,"y":1},{"s":4,"x":1.9,"y":1},{"s":4,"x":2.2,"y":0},{"s":4,"x":3.6,"y":0},{"s":4,"x":3.9,"y":1},{"s":4,"x":5.8,"y":1},{"s":4,"x":6.1,"y":0},{"s":4,"x":7,"y":0},{"s":4,"x":7.3,"y":1},{"s":4,"x":8,"y":1},
{"s":5,"x":-2.5,"y":0},{"s":5,"x":0,"y":0},{"s":5,"x":0.4,"y":0.45},{"s":5,"x":0.8,"y":0.57},{"s":5,"x":1.2,"y":0.5},{"s":5,"x":1.6,"y":0.2},{"s":5,"x":2,"y":0.05},{"s":5,"x":3,"y":0.3},{"s":5,"x":3.5,"y":0.52},{"s":5,"x":4,"y":0.48},{"s":5,"x":4.5,"y":0.3},{"s":5,"x":5,"y":0.1},{"s":5,"x":5.5,"y":0},{"s":5,"x":8,"y":0},
{"s":6,"x":-2.5,"y":0},{"s":6,"x":-1,"y":0.3},{"s":6,"x":-0.5,"y":0.2},{"s":6,"x":0,"y":0.4},{"s":6,"x":0.5,"y":0.55},{"s":6,"x":1,"y":0.45},{"s":6,"x":1.5,"y":0.3},{"s":6,"x":2,"y":0.35},{"s":6,"x":2.5,"y":0.2},{"s":6,"x":3,"y":0.3},{"s":6,"x":3.5,"y":0.4},{"s":6,"x":4,"y":0.25},{"s":6,"x":4.5,"y":0.3},{"s":6,"x":5,"y":0.2},{"s":6,"x":5.5,"y":0.1},{"s":6,"x":6,"y":0},{"s":6,"x":8,"y":0},
{"s":7,"x":-2.5,"y":0},{"s":7,"x":1.5,"y":0},{"s":7,"x":2,"y":0.5},{"s":7,"x":2.5,"y":0.9},{"s":7,"x":3,"y":0.6},{"s":7,"x":3.5,"y":0.25},{"s":7,"x":4,"y":0.6},{"s":7,"x":4.3,"y":0.7},{"s":7,"x":4.8,"y":0.3},{"s":7,"x":5.3,"y":0.25},{"s":7,"x":6,"y":0.8},{"s":7,"x":6.3,"y":0.85},{"s":7,"x":6.8,"y":0.4},{"s":7,"x":7.2,"y":0},{"s":7,"x":8,"y":0},
{"s":8,"x":-2.5,"y":1},{"s":8,"x":1.4,"y":1},{"s":8,"x":1.7,"y":0},{"s":8,"x":2.9,"y":0},{"s":8,"x":3.2,"y":0.3},{"s":8,"x":3.6,"y":0.65},{"s":8,"x":4,"y":0.7},{"s":8,"x":4.4,"y":0.4},{"s":8,"x":4.8,"y":0},{"s":8,"x":6,"y":0},{"s":8,"x":6.3,"y":1},{"s":8,"x":8,"y":1},
{"s":9,"x":-2.5,"y":0},{"s":9,"x":-2,"y":0.98},{"s":9,"x":-1.6,"y":0.95},{"s":9,"x":-1.2,"y":0},{"s":9,"x":0.1,"y":0},{"s":9,"x":0.4,"y":1},{"s":9,"x":1,"y":1},{"s":9,"x":1.2,"y":0},{"s":9,"x":3,"y":0},{"s":9,"x":3.3,"y":1},{"s":9,"x":4,"y":1},{"s":9,"x":4.3,"y":0},{"s":9,"x":6.6,"y":0},{"s":9,"x":6.9,"y":1},{"s":9,"x":7.5,"y":1},{"s":9,"x":7.8,"y":0},{"s":9,"x":8,"y":0},
{"s":10,"x":-2.5,"y":0},{"s":10,"x":-0.4,"y":0},{"s":10,"x":-0.1,"y":1},{"s":10,"x":0.2,"y":1},{"s":10,"x":0.4,"y":0},{"s":10,"x":1.8,"y":0},{"s":10,"x":2.2,"y":1},{"s":10,"x":3.6,"y":1},{"s":10,"x":3.9,"y":0.4},{"s":10,"x":4.2,"y":0.45},{"s":10,"x":4.5,"y":0.9},{"s":10,"x":5,"y":1},{"s":10,"x":5.5,"y":0.4},{"s":10,"x":5.9,"y":0},{"s":10,"x":8,"y":0},
{"s":11,"x":-2.5,"y":1},{"s":11,"x":0,"y":1},{"s":11,"x":0.3,"y":0.5},{"s":11,"x":0.7,"y":0.56},{"s":11,"x":1.1,"y":0.55},{"s":11,"x":1.5,"y":0.3},{"s":11,"x":2,"y":0.25},{"s":11,"x":2.5,"y":0.45},{"s":11,"x":3,"y":0.3},{"s":11,"x":3.5,"y":0.22},{"s":11,"x":4,"y":0.3},{"s":11,"x":4.5,"y":0.15},{"s":11,"x":5,"y":0},{"s":11,"x":7.5,"y":0},{"s":11,"x":7.8,"y":1},{"s":11,"x":8,"y":1},
{"s":12,"x":-2.5,"y":0},{"s":12,"x":2,"y":0},{"s":12,"x":2.4,"y":0.4},{"s":12,"x":3,"y":0.35},{"s":12,"x":3.5,"y":0.32},{"s":12,"x":4,"y":0.28},{"s":12,"x":4.6,"y":0.3},{"s":12,"x":5,"y":0.25},{"s":12,"x":5.5,"y":0.1},{"s":12,"x":6.2,"y":0.75},{"s":12,"x":6.5,"y":0.8},{"s":12,"x":7,"y":0.3},{"s":12,"x":7.3,"y":0},{"s":12,"x":8,"y":0},
{"s":13,"x":-2.5,"y":1},{"s":13,"x":-1.6,"y":1},{"s":13,"x":-1.3,"y":0.05},{"s":13,"x":-1,"y":0},{"s":13,"x":0.6,"y":0},{"s":13,"x":0.8,"y":0.3},{"s":13,"x":1.3,"y":0.2},{"s":13,"x":1.8,"y":0.05},{"s":13,"x":2.3,"y":0.3},{"s":13,"x":3,"y":0.5},{"s":13,"x":3.4,"y":0.1},{"s":13,"x":4.7,"y":0},{"s":13,"x":5,"y":1},{"s":13,"x":6.1,"y":1},{"s":13,"x":6.4,"y":0},{"s":13,"x":8,"y":0},
{"s":14,"x":-2.5,"y":0},{"s":14,"x":-1.8,"y":0},{"s":14,"x":-1.5,"y":0.98},{"s":14,"x":-0.9,"y":0.99},{"s":14,"x":-0.6,"y":0.2},{"s":14,"x":-0.3,"y":0},{"s":14,"x":2.8,"y":0},{"s":14,"x":3.1,"y":1},{"s":14,"x":3.9,"y":1},{"s":14,"x":4.1,"y":0},{"s":14,"x":5.1,"y":0},{"s":14,"x":5.4,"y":1},{"s":14,"x":7.5,"y":1},{"s":14,"x":7.7,"y":0},{"s":14,"x":8,"y":0},
{"s":15,"x":-2.5,"y":0},{"s":15,"x":3.5,"y":0},{"s":15,"x":3.9,"y":0.7},{"s":15,"x":4.2,"y":0.75},{"s":15,"x":4.6,"y":0.5},{"s":15,"x":5,"y":0.2},{"s":15,"x":5.5,"y":0.1},{"s":15,"x":6,"y":0.75},{"s":15,"x":6.3,"y":0.8},{"s":15,"x":6.7,"y":0.2},{"s":15,"x":7,"y":0},{"s":15,"x":8,"y":0},
{"s":16,"x":-2.5,"y":0},{"s":16,"x":-0.8,"y":0},{"s":16,"x":-0.5,"y":0.6},{"s":16,"x":-0.2,"y":0.4},{"s":16,"x":0.1,"y":0},{"s":16,"x":1.1,"y":0},{"s":16,"x":1.4,"y":1},{"s":16,"x":2.6,"y":1},{"s":16,"x":2.9,"y":0},{"s":16,"x":4.3,"y":0},{"s":16,"x":4.6,"y":1},{"s":16,"x":5.6,"y":1},{"s":16,"x":5.9,"y":0},{"s":16,"x":7.6,"y":0},{"s":16,"x":7.9,"y":1},{"s":16,"x":8,"y":1},
{"s":17,"x":-2.5,"y":1},{"s":17,"x":3.3,"y":1},{"s":17,"x":3.6,"y":0},{"s":17,"x":4.4,"y":0},{"s":17,"x":4.7,"y":1},{"s":17,"x":6.8,"y":1},{"s":17,"x":7.1,"y":0},{"s":17,"x":8,"y":0},
{"s":18,"x":-2.5,"y":0},{"s":18,"x":0.5,"y":0},{"s":18,"x":0.9,"y":0.55},{"s":18,"x":1.3,"y":0.5},{"s":18,"x":1.8,"y":0.4},{"s":18,"x":2.4,"y":0.5},{"s":18,"x":3,"y":0.8},{"s":18,"x":3.4,"y":0.85},{"s":18,"x":3.8,"y":0.3},{"s":18,"x":4.2,"y":0.2},{"s":18,"x":4.8,"y":0.22},{"s":18,"x":5.3,"y":0.2},{"s":18,"x":5.8,"y":0.05},{"s":18,"x":6.3,"y":0},{"s":18,"x":8,"y":0},
{"s":19,"x":-2.5,"y":0},{"s":19,"x":5.6,"y":0},{"s":19,"x":6,"y":1},{"s":19,"x":6.6,"y":1},{"s":19,"x":7,"y":0.5},{"s":19,"x":7.3,"y":0},{"s":19,"x":7.6,"y":0},{"s":19,"x":7.9,"y":1},{"s":19,"x":8,"y":1},
{"s":20,"x":-2.5,"y":1},{"s":20,"x":-1.1,"y":1},{"s":20,"x":-0.8,"y":0.5},{"s":20,"x":-0.5,"y":0},{"s":20,"x":1.5,"y":0},{"s":20,"x":1.8,"y":0.55},{"s":20,"x":2.2,"y":0.6},{"s":20,"x":2.6,"y":0.2},{"s":20,"x":3,"y":0},{"s":20,"x":5.3,"y":0},{"s":20,"x":5.6,"y":0.95},{"s":20,"x":6.5,"y":0.9},{"s":20,"x":7,"y":1},{"s":20,"x":8,"y":1},
{"s":21,"x":-2.5,"y":0},{"s":21,"x":-1.4,"y":0},{"s":21,"x":-1.1,"y":0.9},{"s":21,"x":-0.9,"y":0.9},{"s":21,"x":-0.6,"y":0},{"s":21,"x":0.7,"y":0},{"s":21,"x":1,"y":1},{"s":21,"x":1.6,"y":1},{"s":21,"x":1.9,"y":0},{"s":21,"x":4.2,"y":0},{"s":21,"x":4.5,"y":0.9},{"s":21,"x":4.9,"y":0.5},{"s":21,"x":5.4,"y":0.15},{"s":21,"x":6,"y":0.3},{"s":21,"x":6.6,"y":0},{"s":21,"x":8,"y":0},
{"s":22,"x":-2.5,"y":1},{"s":22,"x":2.2,"y":1},{"s":22,"x":2.5,"y":0},{"s":22,"x":3.8,"y":0},{"s":22,"x":4.1,"y":1},{"s":22,"x":5.1,"y":1},{"s":22,"x":5.4,"y":0},{"s":22,"x":6.7,"y":0},{"s":22,"x":7,"y":1},{"s":22,"x":8,"y":1}
],
"g":[
{"s":1,"x":-2.5,"y":0},{"s":1,"x":-2,"y":0.05},{"s":1,"x":-1.5,"y":0.12},{"s":1,"x":-1,"y":0.08},{"s":1,"x":-0.5,"y":0.15},{"s":1,"x":0,"y":0.25},{"s":1,"x":0.5,"y":0.2},{"s":1,"x":1,"y":0.3},{"s":1,"x":1.5,"y":0.33},{"s":1,"x":2,"y":0.28},{"s":1,"x":2.5,"y":0.38},{"s":1,"x":3,"y":0.42},{"s":1,"x":3.5,"y":0.37},{"s":1,"x":4,"y":0.45},{"s":1,"x":4.5,"y":0.55},{"s":1,"x":5,"y":0.5},{"s":1,"x":5.5,"y":0.58},{"s":1,"x":6,"y":0.65},{"s":1,"x":6.5,"y":0.6},{"s":1,"x":7,"y":0.7},{"s":1,"x":7.5,"y":0.75},{"s":1,"x":8,"y":0.7},
{"s":2,"x":-2.5,"y":0},{"s":2,"x":-2,"y":0.02},{"s":2,"x":-1.5,"y":0.06},{"s":2,"x":-1,"y":0.15},{"s":2,"x":-0.5,"y":0.2},{"s":2,"x":0,"y":0.17},{"s":2,"x":0.5,"y":0.25},{"s":2,"x":1,"y":0.42},{"s":2,"x":1.5,"y":0.35},{"s":2,"x":2,"y":0.3},{"s":2,"x":2.5,"y":0.45},{"s":2,"x":3,"y":0.5},{"s":2,"x":3.5,"y":0.4},{"s":2,"x":4,"y":0.48},{"s":2,"x":4.5,"y":0.62},{"s":2,"x":5,"y":0.55},{"s":2,"x":5.5,"y":0.6},{"s":2,"x":6,"y":0.72},{"s":2,"x":6.5,"y":0.65},{"s":2,"x":7,"y":0.6},{"s":2,"x":7.5,"y":0.8},{"s":2,"x":8,"y":0.9},
{"s":3,"x":-2.5,"y":0},{"s":3,"x":-2,"y":0},{"s":3,"x":-1.5,"y":0.05},{"s":3,"x":-1,"y":0.1},{"s":3,"x":-0.5,"y":0.1},{"s":3,"x":0,"y":0.2},{"s":3,"x":0.5,"y":0.24},{"s":3,"x":1,"y":0.22},{"s":3,"x":1.5,"y":0.3},{"s":3,"x":2,"y":0.36},{"s":3,"x":2.5,"y":0.32},{"s":3,"x":3,"y":0.38},{"s":3,"x":3.5,"y":0.45},{"s":3,"x":4,"y":0.42},{"s":3,"x":4.5,"y":0.47},{"s":3,"x":5,"y":0.55},{"s":3,"x":5.5,"y":0.52},{"s":3,"x":6,"y":0.58},{"s":3,"x":6.5,"y":0.65},{"s":3,"x":7,"y":0.6},{"s":3,"x":7.5,"y":0.7},{"s":3,"x":8,"y":0.72},
{"s":4,"x":-2.5,"y":0.12},{"s":4,"x":-2,"y":0.05},{"s":4,"x":-1.5,"y":0.12},{"s":4,"x":-1,"y":0.25},{"s":4,"x":-0.5,"y":0.15},{"s":4,"x":0,"y":0.2},{"s":4,"x":0.5,"y":0.45},{"s":4,"x":1,"y":0.6},{"s":4,"x":1.5,"y":0.58},{"s":4,"x":2,"y":0.45},{"s":4,"x":2.5,"y":0.35},{"s":4,"x":3,"y":0.45},{"s":4,"x":3.5,"y":0.65},{"s":4,"x":4,"y":0.78},{"s":4,"x":4.5,"y":0.7},{"s":4,"x":5,"y":0.6},{"s":4,"x":5.5,"y":0.65},{"s":4,"x":6,"y":0.8},{"s":4,"x":6.5,"y":0.7},{"s":4,"x":7,"y":0.62},{"s":4,"x":7.5,"y":0.85},{"s":4,"x":8,"y":0.95},
{"s":5,"x":-2.5,"y":0},{"s":5,"x":-2,"y":0.03},{"s":5,"x":-1.5,"y":0.2},{"s":5,"x":-1,"y":0.32},{"s":5,"x":-0.5,"y":0.22},{"s":5,"x":0,"y":0.15},{"s":5,"x":0.5,"y":0.2},{"s":5,"x":1,"y":0.35},{"s":5,"x":1.5,"y":0.5},{"s":5,"x":2,"y":0.45},{"s":5,"x":2.5,"y":0.35},{"s":5,"x":3,"y":0.4},{"s":5,"x":3.5,"y":0.55},{"s":5,"x":4,"y":0.62},{"s":5,"x":4.5,"y":0.55},{"s":5,"x":5,"y":0.5},{"s":5,"x":5.5,"y":0.68},{"s":5,"x":6,"y":0.75},{"s":5,"x":6.5,"y":0.68},{"s":5,"x":7,"y":0.55},{"s":5,"x":7.5,"y":0.65},{"s":5,"x":8,"y":0.8},
{"s":6,"x":-2.5,"y":0},{"s":6,"x":-2,"y":0.02},{"s":6,"x":-1.5,"y":0.08},{"s":6,"x":-1,"y":0.12},{"s":6,"x":-0.5,"y":0.18},{"s":6,"x":0,"y":0.2},{"s":6,"x":0.5,"y":0.28},{"s":6,"x":1,"y":0.32},{"s":6,"x":1.5,"y":0.35},{"s":6,"x":2,"y":0.4},{"s":6,"x":2.5,"y":0.45},{"s":6,"x":3,"y":0.5},{"s":6,"x":3.5,"y":0.55},{"s":6,"x":4,"y":0.65},{"s":6,"x":4.5,"y":0.85},{"s":6,"x":5,"y":1},{"s":6,"x":5.5,"y":1},{"s":6,"x":6,"y":1},{"s":6,"x":6.5,"y":1},{"s":6,"x":7,"y":1},{"s":6,"x":7.5,"y":1},{"s":6,"x":8,"y":1},
{"s":7,"x":-2.5,"y":0},{"s":7,"x":-2,"y":0.01},{"s":7,"x":-1.5,"y":0.03},{"s":7,"x":-1,"y":0.05},{"s":7,"x":-0.5,"y":0.1},{"s":7,"x":0,"y":0.15},{"s":7,"x":0.5,"y":0.14},{"s":7,"x":1,"y":0.2},{"s":7,"x":1.5,"y":0.25},{"s":7,"x":2,"y":0.22},{"s":7,"x":2.5,"y":0.28},{"s":7,"x":3,"y":0.35},{"s":7,"x":3.5,"y":0.32},{"s":7,"x":4,"y":0.36},{"s":7,"x":4.5,"y":0.45},{"s":7,"x":5,"y":0.42},{"s":7,"x":5.5,"y":0.48},{"s":7,"x":6,"y":0.55},{"s":7,"x":6.5,"y":0.5},{"s":7,"x":7,"y":0.58},{"s":7,"x":7.5,"y":0.65},{"s":7,"x":8,"y":0.55},
{"s":8,"x":-2.5,"y":0},{"s":8,"x":-2,"y":0.05},{"s":8,"x":-1.5,"y":0.08},{"s":8,"x":-1,"y":0.12},{"s":8,"x":-0.5,"y":0.12},{"s":8,"x":0,"y":0.18},{"s":8,"x":0.5,"y":0.3},{"s":8,"x":1,"y":0.28},{"s":8,"x":1.5,"y":0.22},{"s":8,"x":2,"y":0.3},{"s":8,"x":2.5,"y":0.42},{"s":8,"x":3,"y":0.35},{"s":8,"x":3.5,"y":0.3},{"s":8,"x":4,"y":0.4},{"s":8,"x":4.5,"y":0.5},{"s":8,"x":5,"y":0.48},{"s":8,"x":5.5,"y":0.45},{"s":8,"x":6,"y":0.55},{"s":8,"x":6.5,"y":0.7},{"s":8,"x":7,"y":0.6},{"s":8,"x":7.5,"y":0.3},{"s":8,"x":8,"y":0.55},
{"s":9,"x":-2.5,"y":0},{"s":9,"x":-2,"y":0.04},{"s":9,"x":-1.5,"y":0.1},{"s":9,"x":-1,"y":0.18},{"s":9,"x":-0.5,"y":0.2},{"s":9,"x":0,"y":0.22},{"s":9,"x":0.5,"y":0.32},{"s":9,"x":1,"y":0.38},{"s":9,"x":1.5,"y":0.4},{"s":9,"x":2,"y":0.48},{"s":9,"x":2.5,"y":0.5},{"s":9,"x":3,"y":0.45},{"s":9,"x":3.5,"y":0.5},{"s":9,"x":4,"y":0.58},{"s":9,"x":4.5,"y":0.6},{"s":9,"x":5,"y":0.65},{"s":9,"x":5.5,"y":0.62},{"s":9,"x":6,"y":0.7},{"s":9,"x":6.5,"y":0.75},{"s":9,"x":7,"y":0.85},{"s":9,"x":7.5,"y":0.95},{"s":9,"x":8,"y":1},
{"s":10,"x":-2.5,"y":0},{"s":10,"x":-2,"y":0.02},{"s":10,"x":-1.5,"y":0.04},{"s":10,"x":-1,"y":0.06},{"s":10,"x":-0.5,"y":0.12},{"s":10,"x":0,"y":0.22},{"s":10,"x":0.5,"y":0.18},{"s":10,"x":1,"y":0.15},{"s":10,"x":1.5,"y":0.25},{"s":10,"x":2,"y":0.33},{"s":10,"x":2.5,"y":0.3},{"s":10,"x":3,"y":0.28},{"s":10,"x":3.5,"y":0.38},{"s":10,"x":4,"y":0.45},{"s":10,"x":4.5,"y":0.42},{"s":10,"x":5,"y":0.45},{"s":10,"x":5.5,"y":0.55},{"s":10,"x":6,"y":0.6},{"s":10,"x":6.5,"y":0.58},{"s":10,"x":7,"y":0.65},{"s":10,"x":7.5,"y":0.78},{"s":10,"x":8,"y":0.72},
{"s":11,"x":-2.5,"y":0},{"s":11,"x":-2,"y":0.06},{"s":11,"x":-1.5,"y":0.15},{"s":11,"x":-1,"y":0.2},{"s":11,"x":-0.5,"y":0.22},{"s":11,"x":0,"y":0.3},{"s":11,"x":0.5,"y":0.38},{"s":11,"x":1,"y":0.42},{"s":11,"x":1.5,"y":0.48},{"s":11,"x":2,"y":0.5},{"s":11,"x":2.5,"y":0.55},{"s":11,"x":3,"y":0.6},{"s":11,"x":3.5,"y":0.58},{"s":11,"x":4,"y":0.65},{"s":11,"x":4.5,"y":0.72},{"s":11,"x":5,"y":0.8},{"s":11,"x":5.5,"y":0.85},{"s":11,"x":6,"y":0.9},{"s":11,"x":6.5,"y":0.95},{"s":11,"x":7,"y":1},{"s":11,"x":7.5,"y":1},{"s":11,"x":8,"y":1},
{"s":12,"x":-2.5,"y":0},{"s":12,"x":-2,"y":0},{"s":12,"x":-1.5,"y":0.05},{"s":12,"x":-1,"y":0.1},{"s":12,"x":-0.5,"y":0.12},{"s":12,"x":0,"y":0.16},{"s":12,"x":0.5,"y":0.22},{"s":12,"x":1,"y":0.25},{"s":12,"x":1.5,"y":0.3},{"s":12,"x":2,"y":0.32},{"s":12,"x":2.5,"y":0.36},{"s":12,"x":3,"y":0.4},{"s":12,"x":3.5,"y":0.43},{"s":12,"x":4,"y":0.47},{"s":12,"x":4.5,"y":0.5},{"s":12,"x":5,"y":0.53},{"s":12,"x":5.5,"y":0.58},{"s":12,"x":6,"y":0.6},{"s":12,"x":6.5,"y":0.65},{"s":12,"x":7,"y":0.7},{"s":12,"x":7.5,"y":0.6},{"s":12,"x":7.8,"y":0.35},{"s":12,"x":8,"y":0},
{"s":13,"x":-2.5,"y":0},{"s":13,"x":-2,"y":0.01},{"s":13,"x":-1.5,"y":0.02},{"s":13,"x":-1,"y":0.04},{"s":13,"x":-0.5,"y":0.08},{"s":13,"x":0,"y":0.13},{"s":13,"x":0.5,"y":0.15},{"s":13,"x":1,"y":0.18},{"s":13,"x":1.5,"y":0.2},{"s":13,"x":2,"y":0.24},{"s":13,"x":2.5,"y":0.27},{"s":13,"x":3,"y":0.3},{"s":13,"x":3.5,"y":0.32},{"s":13,"x":4,"y":0.35},{"s":13,"x":4.5,"y":0.38},{"s":13,"x":5,"y":0.42},{"s":13,"x":5.5,"y":0.45},{"s":13,"x":6,"y":0.48},{"s":13,"x":6.5,"y":0.52},{"s":13,"x":7,"y":0.55},{"s":13,"x":7.5,"y":0.62},{"s":13,"x":8,"y":0.65},
{"s":14,"x":-2.5,"y":0},{"s":14,"x":-2,"y":0.08},{"s":14,"x":-1.5,"y":0.15},{"s":14,"x":-1,"y":0.13},{"s":14,"x":-0.5,"y":0.1},{"s":14,"x":0,"y":0.19},{"s":14,"x":0.5,"y":0.26},{"s":14,"x":1,"y":0.25},{"s":14,"x":1.5,"y":0.38},{"s":14,"x":2,"y":0.44},{"s":14,"x":2.5,"y":0.4},{"s":14,"x":3,"y":0.33},{"s":14,"x":3.5,"y":0.42},{"s":14,"x":4,"y":0.52},{"s":14,"x":4.5,"y":0.48},{"s":14,"x":5,"y":0.42},{"s":14,"x":5.5,"y":0.5},{"s":14,"x":6,"y":0.6},{"s":14,"x":6.5,"y":0.62},{"s":14,"x":7,"y":0.5},{"s":14,"x":7.5,"y":0.55},{"s":14,"x":8,"y":0.75},
{"s":15,"x":-2.5,"y":0},{"s":15,"x":-2,"y":0.01},{"s":15,"x":-1.5,"y":0.05},{"s":15,"x":-1,"y":0.05},{"s":15,"x":-0.5,"y":0.06},{"s":15,"x":0,"y":0.17},{"s":15,"x":0.5,"y":0.28},{"s":15,"x":1,"y":0.35},{"s":15,"x":1.5,"y":0.28},{"s":15,"x":2,"y":0.26},{"s":15,"x":2.5,"y":0.35},{"s":15,"x":3,"y":0.5},{"s":15,"x":3.5,"y":0.52},{"s":15,"x":4,"y":0.43},{"s":15,"x":4.5,"y":0.4},{"s":15,"x":5,"y":0.5},{"s":15,"x":5.5,"y":0.6},{"s":15,"x":6,"y":0.63},{"s":15,"x":6.5,"y":0.57},{"s":15,"x":7,"y":0.62},{"s":15,"x":7.5,"y":0.9},{"s":15,"x":8,"y":0.98}
],
"h":[
{"s":1,"x":-2.5,"y":0},{"s":1,"x":-1.5,"y":0.075},{"s":1,"x":0,"y":0.18},{"s":1,"x":1,"y":0.255},{"s":1,"x":2,"y":0.325},{"s":1,"x":3,"y":0.395},{"s":1,"x":4,"y":0.47},{"s":1,"x":5,"y":0.55},{"s":1,"x":6,"y":0.625},{"s":1,"x":7,"y":0.695},{"s":1,"x":7.5,"y":0.735},{"s":1,"x":8,"y":0.78},
{"s":2,"x":-2.5,"y":0},{"s":2,"x":-1.5,"y":0.068},{"s":2,"x":0,"y":0.172},{"s":2,"x":1,"y":0.243},{"s":2,"x":2,"y":0.312},{"s":2,"x":3,"y":0.382},{"s":2,"x":4,"y":0.45},{"s":2,"x":5,"y":0.515},{"s":2,"x":6,"y":0.585},{"s":2,"x":7,"y":0.66},{"s":2,"x":7.5,"y":0.695},{"s":2,"x":8,"y":0.72},
{"s":3,"x":-2.5,"y":0},{"s":3,"x":-1.5,"y":0.072},{"s":3,"x":0,"y":0.182},{"s":3,"x":1,"y":0.25},{"s":3,"x":2,"y":0.322},{"s":3,"x":3,"y":0.39},{"s":3,"x":4,"y":0.465},{"s":3,"x":5,"y":0.54},{"s":3,"x":6,"y":0.61},{"s":3,"x":7,"y":0.68},{"s":3,"x":7.5,"y":0.72},{"s":3,"x":8,"y":0.76},
{"s":4,"x":-2.5,"y":0},{"s":4,"x":-1.5,"y":0.068},{"s":4,"x":0,"y":0.176},{"s":4,"x":1,"y":0.248},{"s":4,"x":2,"y":0.318},{"s":4,"x":3,"y":0.39},{"s":4,"x":4,"y":0.46},{"s":4,"x":5,"y":0.53},{"s":4,"x":6,"y":0.6},{"s":4,"x":7,"y":0.675},{"s":4,"x":7.5,"y":0.71},{"s":4,"x":8,"y":0.74},
{"s":5,"x":-2.5,"y":0},{"s":5,"x":-1.5,"y":0.076},{"s":5,"x":0,"y":0.184},{"s":5,"x":1,"y":0.257},{"s":5,"x":2,"y":0.328},{"s":5,"x":3,"y":0.4},{"s":5,"x":4,"y":0.472},{"s":5,"x":5,"y":0.552},{"s":5,"x":6,"y":0.63},{"s":5,"x":7,"y":0.7},{"s":5,"x":7.5,"y":0.74},{"s":5,"x":8,"y":0.79},
{"s":6,"x":-2.5,"y":0},{"s":6,"x":-1.5,"y":0.07},{"s":6,"x":0,"y":0.178},{"s":6,"x":1,"y":0.25},{"s":6,"x":2,"y":0.32},{"s":6,"x":3,"y":0.392},{"s":6,"x":4,"y":0.462},{"s":6,"x":5,"y":0.528},{"s":6,"x":6,"y":0.6},{"s":6,"x":7,"y":0.672},{"s":6,"x":7.5,"y":0.705},{"s":6,"x":8,"y":0.72},
{"s":7,"x":-2.5,"y":0},{"s":7,"x":-1.5,"y":0.073},{"s":7,"x":0,"y":0.181},{"s":7,"x":1,"y":0.252},{"s":7,"x":2,"y":0.324},{"s":7,"x":3,"y":0.394},{"s":7,"x":4,"y":0.466},{"s":7,"x":5,"y":0.542},{"s":7,"x":6,"y":0.612},{"s":7,"x":7,"y":0.683},{"s":7,"x":7.5,"y":0.72},{"s":7,"x":8,"y":0.75},
{"s":8,"x":-2.5,"y":0},{"s":8,"x":-1.5,"y":0.069},{"s":8,"x":0,"y":0.177},{"s":8,"x":1,"y":0.247},{"s":8,"x":2,"y":0.319},{"s":8,"x":3,"y":0.388},{"s":8,"x":4,"y":0.458},{"s":8,"x":5,"y":0.525},{"s":8,"x":6,"y":0.598},{"s":8,"x":7,"y":0.67},{"s":8,"x":7.5,"y":0.712},{"s":8,"x":8,"y":0.745}
]
},
"concat":[
{"width":162.2,"height":13.5,"view":{"stroke":null},"data":{"values":[{"t":"Occurrence"}]},"mark":{"type":"text","baseline":"middle","fontSize":32,"dx":7.4,"dy":38},"encoding":{"text":{"field":"t"}}},
{"width":192,"height":13.5,"view":{"stroke":null},"data":{"values":[{"t":"Logit Linear\nn=100"}]},"mark":{"type":"text","baseline":"top","lineBreak":"\n","lineHeight":37,"dx":-27.4,"dy":9},"encoding":{"text":{"field":"t"}}},
{"width":200.7,"height":13.5,"view":{"stroke":null},"data":{"values":[{"t":"Logit Spline\nn=100"}]},"mark":{"type":"text","baseline":"top","lineBreak":"\n","lineHeight":37,"dx":-22,"dy":9},"encoding":{"text":{"field":"t"}}},
{"width":200.7,"height":13.5,"view":{"stroke":null},"data":{"values":[{"t":"Logit Spline\nn=1,000"}]},"mark":{"type":"text","baseline":"top","lineBreak":"\n","lineHeight":37,"dx":-4,"dy":9},"encoding":{"text":{"field":"t"}}},
{"width":193,"height":13.5,"view":{"stroke":null},"data":{"values":[{"t":"Logit Spline\nn=100,000"}]},"mark":{"type":"text","baseline":"top","lineBreak":"\n","lineHeight":37,"dx":-19,"dy":9},"encoding":{"text":{"field":"t"}}},

{"width":162.2,"height":136.8,"view":{"stroke":null},"data":{"values":[{"t":"Single\nVisit"}]},"mark":{"type":"text","baseline":"middle","fontSize":32,"lineBreak":"\n","lineHeight":36,"dx":7,"dy":6},"encoding":{"text":{"field":"t"}}},
{"width":192,"height":125.2,"title":{"text":"(a)","orient":"bottom","offset":30,"dx":-27.4},
 "layer":[
 {"data":{"name":"a"},"mark":{"type":"line","color":"#ff0000","opacity":0.35,"strokeWidth":1,"interpolate":"monotone"},
  "encoding":{"x":{"field":"x","type":"quantitative","scale":{"domain":[-3.44,8.44],"nice":false,"zero":false},"axis":{"tickCount":6,"labelOverlap":false,"title":"x","labelFontSize":9.5,"titleFontSize":9.5,"tickSize":4,"labelPadding":0.5,"titlePadding":0.5}},
  "y":{"field":"y","type":"quantitative","scale":{"domain":[-0.04,1.04],"nice":false,"zero":false},"axis":{"tickCount":6,"labelOverlap":false,"format":".1f","title":"ψ(x)","labelFontSize":9.5,"titleFontSize":9.5,"tickSize":4,"labelPadding":2,"titlePadding":0}},
  "detail":{"field":"s","type":"nominal"}}},
 {"data":{"name":"t8"},"mark":{"type":"line","color":"#222","strokeWidth":1},"encoding":{"x":{"field":"x","type":"quantitative","title":"x"},"y":{"field":"y","type":"quantitative","title":"ψ(x)"}}}
 ]},
{"width":200.7,"height":136.8,"title":{"text":"(b)","orient":"bottom","offset":26,"dx":-4},
 "layer":[
 {"data":{"name":"b"},"mark":{"type":"line","color":"#ff0000","opacity":0.3,"strokeWidth":1,"interpolate":"monotone"},
  "encoding":{"x":{"field":"x","type":"quantitative","scale":{"domain":[-3.44,8.44],"nice":false,"zero":false},"axis":{"tickCount":6,"labelOverlap":false,"title":"x","labelFontSize":6.5,"titleFontSize":6.5,"tickSize":3,"labelPadding":0.5,"titlePadding":0.5}},
  "y":{"field":"y","type":"quantitative","scale":{"domain":[-0.04,1.04],"nice":false,"zero":false},"axis":{"tickCount":6,"labelOverlap":false,"format":".1f","title":"ψ(x)","labelFontSize":6.5,"titleFontSize":6.5,"tickSize":3.5,"labelPadding":3.5,"titlePadding":0}},
  "detail":{"field":"s","type":"nominal"}}},
 {"data":{"name":"t8"},"mark":{"type":"line","color":"#222","strokeWidth":1},"encoding":{"x":{"field":"x","type":"quantitative","title":"x"},"y":{"field":"y","type":"quantitative","title":"ψ(x)"}}}
 ]},
{"width":200.7,"height":136.8,"title":{"text":"(c)","orient":"bottom","offset":26,"dx":-4},
 "layer":[
 {"data":{"name":"c"},"mark":{"type":"line","color":"#ff0000","opacity":0.35,"strokeWidth":1},
  "encoding":{"x":{"field":"x","type":"quantitative","scale":{"domain":[-3.44,8.44],"nice":false,"zero":false},"axis":{"tickCount":6,"labelOverlap":false,"title":"x","labelFontSize":6.5,"titleFontSize":6.5,"tickSize":3,"labelPadding":0.5,"titlePadding":0.5}},
  "y":{"field":"y","type":"quantitative","scale":{"domain":[-0.04,1.04],"nice":false,"zero":false},"axis":{"tickCount":6,"labelOverlap":false,"format":".1f","title":"ψ(x)","labelFontSize":6.5,"titleFontSize":6.5,"tickSize":3.5,"labelPadding":3.5,"titlePadding":0}},
  "detail":{"field":"s","type":"nominal"}}},
 {"data":{"name":"t75"},"mark":{"type":"line","color":"#222","strokeWidth":1},"encoding":{"x":{"field":"x","type":"quantitative","title":"x"},"y":{"field":"y","type":"quantitative","title":"ψ(x)"}}}
 ]},
{"width":190,"height":123.6,"view":{"strokeDash":[190,123.6,313.6]},"title":{"text":"(d)","orient":"bottom","offset":32,"dx":0},
 "layer":[
 {"data":{"name":"d"},"mark":{"type":"line","color":"#ff0000","opacity":0.55,"strokeWidth":1,"interpolate":"monotone"},
  "encoding":{"x":{"field":"x","type":"quantitative","scale":{"domain":[-3.7,8.175],"nice":false,"zero":false},"axis":{"tickCount":6,"labelOverlap":false,"title":"x","labelFontSize":9.5,"titleFontSize":9.5,"tickSize":4,"labelPadding":0.5,"titlePadding":0.5,"labelFlush":true}},
  "y":{"field":"y","type":"quantitative","scale":{"domain":[-0.04,1.04],"nice":false,"zero":false},"axis":{"tickCount":6,"labelOverlap":false,"format":".1f","title":"ψ(x)","labelFontSize":9.5,"titleFontSize":9.5,"tickSize":4,"labelPadding":2,"titlePadding":0}},
  "detail":{"field":"s","type":"nominal"}}},
 {"data":{"name":"t8"},"mark":{"type":"line","color":"#222","strokeWidth":1},"encoding":{"x":{"field":"x","type":"quantitative","title":"x"},"y":{"field":"y","type":"quantitative","title":"ψ(x)"}}}
 ]},

{"width":162.2,"height":136.9,"view":{"stroke":null},"data":{"values":[{"t":"Double\nVisit"}]},"mark":{"type":"text","baseline":"middle","fontSize":32,"lineBreak":"\n","lineHeight":36,"dx":7,"dy":8},"encoding":{"text":{"field":"t"}}},
{"width":192,"height":127.4,"title":{"text":"(e)","orient":"bottom","offset":26,"dx":-27.4},
 "layer":[
 {"data":{"name":"e"},"mark":{"type":"line","color":"#ff0000","opacity":0.4,"strokeWidth":1,"interpolate":"monotone"},
  "encoding":{"x":{"field":"x","type":"quantitative","scale":{"domain":[-3.44,8.44],"nice":false,"zero":false},"axis":{"tickCount":6,"labelOverlap":false,"title":"x","labelFontSize":9.5,"titleFontSize":9.5,"tickSize":4,"labelPadding":0.5,"titlePadding":0.5}},
  "y":{"field":"y","type":"quantitative","scale":{"domain":[-0.04,1.04],"nice":false,"zero":false},"axis":{"tickCount":6,"labelOverlap":false,"format":".1f","title":"ψ(x)","labelFontSize":9.5,"titleFontSize":9.5,"tickSize":4,"labelPadding":2,"titlePadding":0}},
  "detail":{"field":"s","type":"nominal"}}},
 {"data":{"name":"t8"},"mark":{"type":"line","color":"#222","strokeWidth":1},"encoding":{"x":{"field":"x","type":"quantitative","title":"x"},"y":{"field":"y","type":"quantitative","title":"ψ(x)"}}}
 ]},
{"width":200.7,"height":136.9,"title":{"text":"(f)","orient":"bottom","offset":25,"dx":-4},
 "layer":[
 {"data":{"name":"f"},"mark":{"type":"line","color":"#ff0000","opacity":0.3,"strokeWidth":1,"interpolate":"monotone"},
  "encoding":{"x":{"field":"x","type":"quantitative","scale":{"domain":[-3.44,8.44],"nice":false,"zero":false},"axis":{"tickCount":6,"labelOverlap":false,"title":"x","labelFontSize":6.5,"titleFontSize":6.5,"tickSize":3,"labelPadding":0.5,"titlePadding":0.5}},
  "y":{"field":"y","type":"quantitative","scale":{"domain":[-0.04,1.04],"nice":false,"zero":false},"axis":{"tickCount":6,"labelOverlap":false,"format":".1f","title":"ψ(x)","labelFontSize":6.5,"titleFontSize":6.5,"tickSize":3.5,"labelPadding":3.5,"titlePadding":0}},
  "detail":{"field":"s","type":"nominal"}}},
 {"data":{"name":"t8"},"mark":{"type":"line","color":"#222","strokeWidth":1},"encoding":{"x":{"field":"x","type":"quantitative","title":"x"},"y":{"field":"y","type":"quantitative","title":"ψ(x)"}}}
 ]},
{"width":200.7,"height":136.9,"title":{"text":"(g)","orient":"bottom","offset":25,"dx":-4},
 "layer":[
 {"data":{"name":"g"},"mark":{"type":"line","color":"#ff0000","opacity":0.4,"strokeWidth":1,"interpolate":"monotone"},
  "encoding":{"x":{"field":"x","type":"quantitative","scale":{"domain":[-3.44,8.44],"nice":false,"zero":false},"axis":{"tickCount":6,"labelOverlap":false,"title":"x","labelFontSize":6.5,"titleFontSize":6.5,"tickSize":3,"labelPadding":0.5,"titlePadding":0.5}},
  "y":{"field":"y","type":"quantitative","scale":{"domain":[-0.04,1.04],"nice":false,"zero":false},"axis":{"tickCount":6,"labelOverlap":false,"format":".1f","title":"ψ(x)","labelFontSize":6.5,"titleFontSize":6.5,"tickSize":3.5,"labelPadding":3.5,"titlePadding":0}},
  "detail":{"field":"s","type":"nominal"}}},
 {"data":{"name":"t7"},"mark":{"type":"line","color":"#222","strokeWidth":1},"encoding":{"x":{"field":"x","type":"quantitative","title":"x"},"y":{"field":"y","type":"quantitative","title":"ψ(x)"}}}
 ]},
{"width":193,"height":136.9,"view":{"strokeDash":[193,136.9,329.9]},"title":{"text":"(h)","orient":"bottom","offset":25,"dx":0},
 "layer":[
 {"data":{"name":"t8"},"mark":{"type":"line","color":"#222","strokeWidth":1},"encoding":{"x":{"field":"x","type":"quantitative","title":"x","scale":{"domain":[-3.44,8.02],"nice":false,"zero":false},"axis":{"tickCount":6,"labelOverlap":false,"title":"x","labelFontSize":6.5,"titleFontSize":6.5,"tickSize":3,"labelPadding":0.5,"titlePadding":0.5,"labelFlush":true}},"y":{"field":"y","type":"quantitative","title":"ψ(x)","scale":{"domain":[-0.04,1.04],"nice":false,"zero":false},"axis":{"tickCount":6,"labelOverlap":false,"format":".1f","title":"ψ(x)","labelFontSize":6.5,"titleFontSize":6.5,"tickSize":3.5,"labelPadding":3.5,"titlePadding":0}}}},
 {"data":{"name":"h"},"mark":{"type":"line","color":"#ff0000","opacity":0.6,"strokeWidth":1.5,"interpolate":"monotone"},
  "encoding":{"x":{"field":"x","type":"quantitative","title":"x"},"y":{"field":"y","type":"quantitative","title":"ψ(x)"},"detail":{"field":"s","type":"nominal"}}}
 ]}
]
}
